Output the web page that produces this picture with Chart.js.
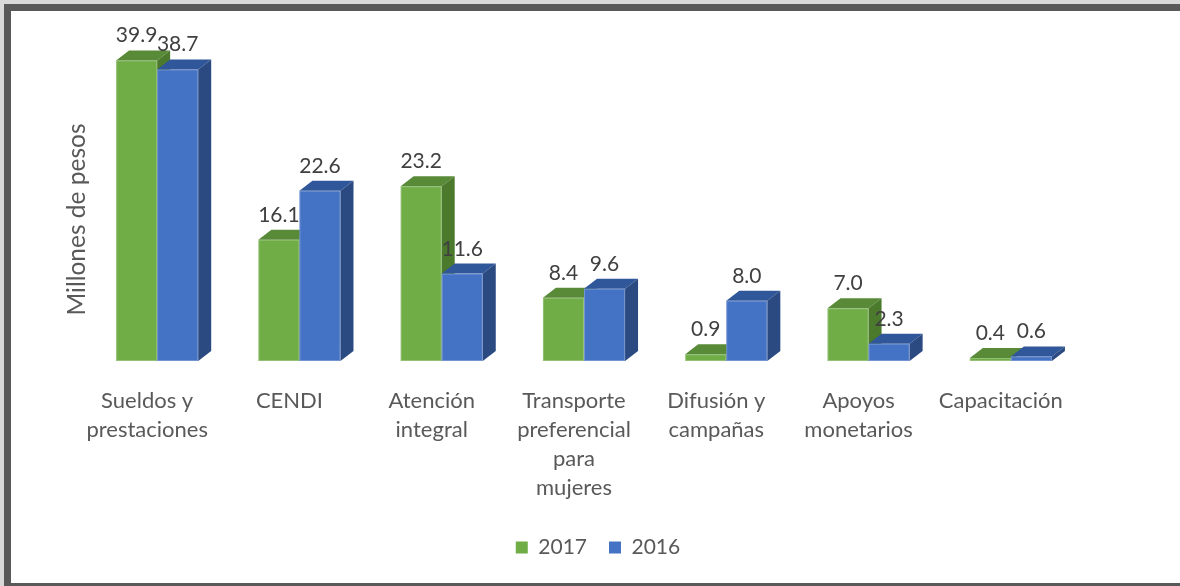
<!DOCTYPE html>
<html><head><meta charset="utf-8">
<script src="https://cdn.jsdelivr.net/npm/chart.js@4/dist/chart.umd.min.js"></script>
<style>html,body{margin:0;padding:0;background:#fff;overflow:hidden}canvas{display:block}</style>
</head><body>
<canvas id="c" width="1180" height="586"></canvas>
<script>
const categories = [["Sueldos y","prestaciones"],"CENDI",["Atención","integral"],["Transporte","preferencial","para","mujeres"],["Difusión y","campañas"],["Apoyos","monetarios"],"Capacitación"];
const values2017 = [39.9,16.1,23.2,8.4,0.9,7.0,0.4];
const values2016 = [38.7,22.6,11.6,9.6,8.0,2.3,0.6];
const seriesNames = ["2017","2016"];
const yTitle = "Millones de pesos";

const FONT = "Lato, 'Open Sans', sans-serif";
const faces = [
  {front:'#70AD47', top:'#588A38', side:'#4B7A2C'},
  {front:'#4472C4', top:'#30579A', side:'#2B4A82'}
];
const DX = 13, DY = 10;

const framePlugin = {
  id:'frame',
  afterLayout(chart){
    if (chart.legend) { chart.legend.left += 14; chart.legend.right += 14; }
  },
  beforeDraw(chart){
    const c = chart.ctx, W = chart.width, H = chart.height;
    c.save();
    c.fillStyle='#ffffff'; c.fillRect(0,0,W,H);
    c.fillStyle='#d9d9d9'; c.fillRect(0,0,W,4); c.fillRect(0,0,4,H);
    c.fillStyle='#595959';
    c.fillRect(4,4,W-4,7); c.fillRect(4,4,7,H-4); c.fillRect(4,583,W-4,3);
    c.restore();
  }
};

const bars3d = {
  id:'bars3d',
  beforeDatasetsDraw(chart){
    const c = chart.ctx;
    c.save();
    chart.data.datasets.forEach((ds,di)=>{
      const meta = chart.getDatasetMeta(di);
      const f = faces[di];
      meta.data.forEach(el=>{
        const p = el.getProps(['x','y','base','width'], true);
        const l = p.x - p.width/2, r = p.x + p.width/2, t = p.y, b = p.base;
        c.fillStyle = f.front; c.fillRect(l, t, r-l, b-t);
        c.fillStyle = f.top;
        c.beginPath(); c.moveTo(l,t); c.lineTo(l+DX,t-DY); c.lineTo(r+DX,t-DY); c.lineTo(r,t); c.closePath(); c.fill();
        c.fillStyle = f.side;
        c.beginPath(); c.moveTo(r,t); c.lineTo(r+DX,t-DY); c.lineTo(r+DX,b-DY); c.lineTo(r,b); c.closePath(); c.fill();
        c.strokeStyle='rgba(255,255,255,0.25)'; c.lineWidth=1;
        c.strokeRect(l+0.5,t+0.5,r-l-1,b-t-1);
      });
    });
    c.restore();
    return false;
  },
  afterDraw(chart){
    const c = chart.ctx;
    c.save();
    c.font = "21px " + FONT;
    c.fillStyle = '#404040';
    c.textAlign = 'center'; c.textBaseline = 'alphabetic';
    chart.data.datasets.forEach((ds,di)=>{
      const meta = chart.getDatasetMeta(di);
      meta.data.forEach((el,i)=>{
        const p = el.getProps(['x','y'], true);
        c.fillText(ds.data[i].toFixed(1), p.x, p.y - DY - 8);
      });
    });
    c.font = "24.5px " + FONT;
    c.fillStyle = '#595959';
    c.translate(77, 219.5);
    c.rotate(-Math.PI/2);
    c.textBaseline = 'middle';
    c.fillText(yTitle, 0, 0);
    c.restore();
  }
};

new Chart(document.getElementById('c'), {
  type:'bar',
  data:{
    labels: categories,
    datasets:[
      {label: seriesNames[0], data: values2017, backgroundColor: faces[0].front, borderWidth:0},
      {label: seriesNames[1], data: values2016, backgroundColor: faces[1].front, borderWidth:0}
    ]
  },
  options:{
    responsive:false,
    animation:false,
    devicePixelRatio:1,
    categoryPercentage:0.577,
    barPercentage:1.0,
    layout:{padding:{left:86, right:98, top:22, bottom:18}},
    scales:{
      x:{
        grid:{display:false, drawTicks:false},
        border:{display:false},
        ticks:{color:'#595959', font:{family:FONT, size:22, lineHeight:1.32}, padding:25, maxRotation:0, autoSkip:false, labelOffset:-10},
        afterFit(scale){ scale.height = 154; }
      },
      y:{display:false, min:0, max:45}
    },
    plugins:{
      legend:{
        position:'bottom',
        labels:{color:'#595959', font:{family:FONT, size:21}, boxWidth:12, boxHeight:12, padding:22}
      },
      tooltip:{enabled:false}
    }
  },
  plugins:[framePlugin, bars3d]
});
</script>
</body></html>
